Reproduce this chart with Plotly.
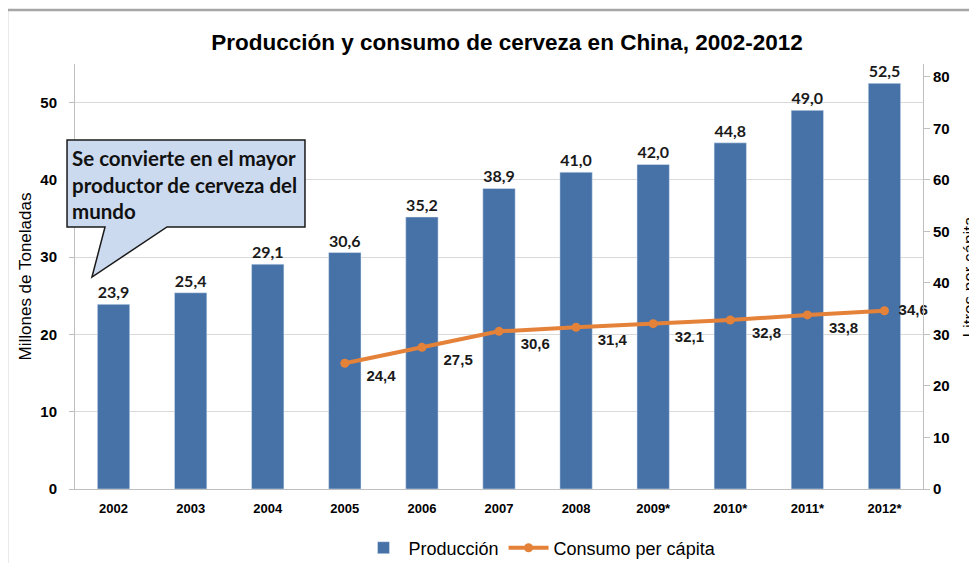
import plotly.graph_objects as go

# data
years = ["2002", "2003", "2004", "2005", "2006", "2007", "2008", "2009*", "2010*", "2011*", "2012*"]
produccion = [23.9, 25.4, 29.1, 30.6, 35.2, 38.9, 41.0, 42.0, 44.8, 49.0, 52.5]
consumo_years = ["2005", "2006", "2007", "2008", "2009*", "2010*", "2011*", "2012*"]
consumo = [24.4, 27.5, 30.6, 31.4, 32.1, 32.8, 33.8, 34.6]

W, H = 977, 563
OFF = 8  # body margin of the html page
L, R, T, B = 75 - OFF, W - 923 + OFF, 64 - OFF, H - 489 + OFF
PW, PH = W - L - R, H - T - B

def px(x, y):
    # screenshot pixels -> paper coords
    return (x - OFF - L) / PW, (H - B - (y - OFF)) / PH

def fmt(v):
    return f"{v:.1f}".replace(".", ",")

arial = "Liberation Sans, Arial, sans-serif"
calib = "Lato, Carlito, Calibri, sans-serif"

fig = go.Figure()
fig.add_trace(go.Bar(
    x=years, y=produccion, name="Producción", width=0.42,
    marker_color="#4672A8",
    text=[fmt(v) for v in produccion], textposition="outside", cliponaxis=False,
    textfont=dict(family=calib, size=16, color="#1a1a1a", weight="bold"),
))
line_text = ["\u2002\u2002" + fmt(v) for v in consumo[:-1]] + ["\u2002" + fmt(consumo[-1])]
fig.add_trace(go.Scatter(
    x=consumo_years, y=consumo, name="Consumo per cápita", yaxis="y2",
    mode="lines+markers+text", line=dict(color="#E5823A", width=4),
    marker=dict(size=9, color="#E5823A"),
    text=line_text,
    textposition=["bottom right"] * 7 + ["middle right"],
    textfont=dict(family=arial, size=15, color="#1a1a1a", weight="bold"),
    cliponaxis=False,
))

# callout box
pts = [px(67, 140), px(305, 140), px(305, 227), px(167, 227), px(92, 277), px(105, 227), px(67, 227)]
path = "M " + " L ".join(f"{a:.4f},{b:.4f}" for a, b in pts) + " Z"
fig.add_shape(type="path", path=path, xref="paper", yref="paper",
              fillcolor="#CCDAEF", line=dict(color="#1a1a1a", width=1.5), layer="above")
tx, ty = px(71, 145)
fig.add_annotation(x=tx, y=ty, xref="paper", yref="paper", xanchor="left", yanchor="top",
                   showarrow=False, align="left", borderpad=0,
                   text="Se convierte en el mayor<br>productor de cerveza del<br>mundo",
                   font=dict(family=calib, size=20.5, color="#111111", weight="bold"))

# outer frame
fx0, fy0 = px(7, 10)
fx1, fy1 = px(990, 575)
fig.add_shape(type="path", path=f"M {fx0:.4f},{fy1:.4f} L {fx0:.4f},{fy0:.4f} L {fx1:.4f},{fy0:.4f}",
              xref="paper", yref="paper", line=dict(color="#A6A6A6", width=2.5))

# right axis title (clipped by page edge like the original)
rx, ry = px(980, 277)
fig.add_annotation(x=rx, y=ry, xref="paper", yref="paper", showarrow=False, textangle=-90,
                   text="Litros per cápita",
                   font=dict(family=arial, size=17, color="#000000"))

lx, ly = px(540, 548)

fig.update_layout(
    width=W, height=H,
    margin=dict(l=L, r=R, t=T, b=B, autoexpand=False),
    paper_bgcolor="white", plot_bgcolor="white",
    title=dict(text="<b>Producción y consumo de cerveza en China, 2002-2012</b>",
               x=(507 - OFF) / W, xref="container", xanchor="center",
               y=1 - (42 - OFF) / H, yref="container", yanchor="middle",
               font=dict(family=arial, size=22.5, color="#000000")),
    xaxis=dict(type="category", range=[-0.5, 10.5], showline=True, linecolor="#BFBFBF",
               ticks="", ticklabelstandoff=7, automargin=False,
               tickfont=dict(family=arial, size=13, color="#000000", weight="bold")),
    yaxis=dict(range=[0, 55], dtick=10, showgrid=True, gridcolor="#D9D9D9", showline=True,
               linecolor="#BFBFBF", ticks="outside", ticklen=5, tickcolor="#BFBFBF",
               ticklabelstandoff=9, automargin=False,
               tickfont=dict(family=arial, size=15, color="#000000", weight="bold"),
               title=dict(text="Millones de Toneladas", standoff=4,
                          font=dict(family=arial, size=17, color="#000000")),
               zeroline=False),
    yaxis2=dict(range=[0, 82.5], dtick=10, overlaying="y", side="right", showgrid=False,
                showline=True, linecolor="#BFBFBF", ticks="outside", ticklen=6, tickcolor="#BFBFBF",
                automargin=False,
                tickfont=dict(family=arial, size=15, color="#000000", weight="bold"), zeroline=False),
    bargap=0.58,
    showlegend=True,
    legend=dict(orientation="h", x=lx, xanchor="center", y=ly, yanchor="middle",
                font=dict(family=arial, size=18, color="#000000"), itemwidth=40),
)

fig.write_html("out.html")
